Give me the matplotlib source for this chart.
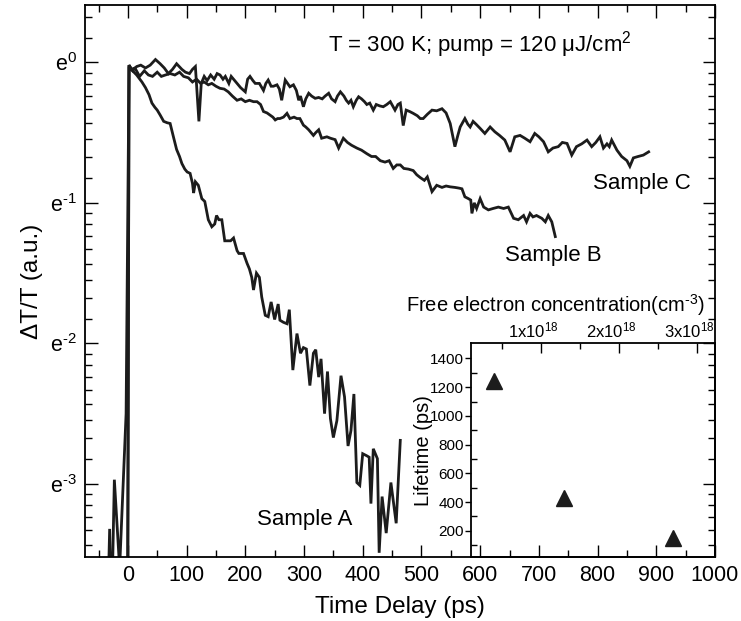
import numpy as np
import matplotlib
matplotlib.use("Agg")
import matplotlib.pyplot as plt
import matplotlib.transforms as mtransforms
from matplotlib.ticker import FixedLocator, NullFormatter

plt.rcParams['font.family'] = ['Liberation Sans', 'DejaVu Sans']
plt.rcParams['mathtext.fontset'] = 'custom'
plt.rcParams['mathtext.rm'] = 'Liberation Sans'
plt.rcParams['mathtext.it'] = 'Liberation Sans:italic'
plt.rcParams['mathtext.bf'] = 'Liberation Sans:bold'

# ---------------- data (delay in ps, signal as natural-log exponent) ----------------
tA = [-35, -31, -28, -23, -14, -3, 2, 8, 15, 24, 30, 36, 41, 46, 50, 55, 61, 67, 72, 77, 83, 88,
      92, 97, 101, 106, 110, 112, 115, 120, 126, 131, 137, 143, 148, 151, 155, 160, 165, 170, 175,
      180, 186, 189, 197, 203, 207, 211, 214, 219, 224, 228, 234, 239, 244, 250, 256, 259, 265,
      271, 275, 281, 288, 294, 299, 304, 310, 316, 320, 325, 329, 335, 340, 345, 350, 356, 363,
      369, 375, 380, 385, 390, 395, 400, 407, 411, 414, 418, 425, 428, 433, 440, 448, 457, 464]
lnA = [-4.0, -3.32, -4.0, -2.97, -3.6, -2.5, -0.02, -0.06, -0.09, -0.14, -0.18, -0.23, -0.29,
       -0.32, -0.34, -0.375, -0.42, -0.43, -0.435, -0.52, -0.62, -0.67, -0.72, -0.76, -0.78,
       -0.79, -0.86, -0.93, -0.85, -0.875, -0.97, -0.99, -1.12, -1.17, -1.15, -1.09, -1.12,
       -1.12, -1.27, -1.27, -1.27, -1.25, -1.34, -1.36, -1.36, -1.43, -1.47, -1.53, -1.62,
       -1.50, -1.53, -1.67, -1.80, -1.81, -1.705, -1.83, -1.72, -1.835, -1.85, -1.86, -1.76,
       -2.19, -1.93, -2.07, -2.03, -2.04, -2.30, -2.07, -2.045, -2.24, -2.11, -2.50, -2.20,
       -2.535, -2.67, -2.55, -2.23, -2.38, -2.73, -2.62, -2.36, -2.99, -3.01, -2.785, -2.80,
       -2.81, -3.14, -2.75, -2.82, -3.49, -3.09, -3.35, -2.99, -3.28, -2.69]

tB = [-40, -1, 2, 6, 12, 20, 28, 35, 42, 50, 57, 64, 72, 80, 88, 95, 103, 110, 117, 124, 130,
      137, 143, 150, 157, 164, 171, 178, 186, 193, 200, 207, 214, 220, 226, 231, 237, 242, 247,
      251, 255, 259, 265, 271, 276, 283, 288, 293, 299, 303, 308, 316, 320, 325, 330, 339, 345,
      353, 359, 367, 374, 381, 390, 398, 407, 415, 422, 430, 438, 445, 452, 458, 464, 470, 478,
      486, 492, 498, 505, 510, 518, 526, 535, 542, 549, 557, 564, 569, 574, 580, 584, 586, 590,
      594, 600, 606, 614, 622, 631, 640, 648, 657, 665, 674, 679, 685, 690, 696, 705, 711, 716,
      722, 728]
lnB = [-5.0, -5.0, -0.02, -0.05, -0.04, -0.10, -0.06, -0.09, -0.10, -0.07, -0.10, -0.09, -0.08,
       -0.09, -0.07, -0.10, -0.11, -0.14, -0.12, -0.15, -0.14, -0.16, -0.15, -0.17, -0.185,
       -0.19, -0.21, -0.24, -0.27, -0.26, -0.28, -0.27, -0.28, -0.28, -0.30, -0.35, -0.36,
       -0.375, -0.39, -0.41, -0.40, -0.40, -0.39, -0.363, -0.40, -0.39, -0.40, -0.40, -0.447,
       -0.46, -0.48, -0.52, -0.50, -0.48, -0.54, -0.53, -0.54, -0.55, -0.61, -0.54, -0.57,
       -0.59, -0.61, -0.625, -0.65, -0.67, -0.67, -0.70, -0.71, -0.70, -0.755, -0.73, -0.73,
       -0.755, -0.76, -0.77, -0.80, -0.82, -0.84, -0.815, -0.92, -0.875, -0.89, -0.88, -0.886,
       -0.89, -0.895, -0.90, -0.957, -0.97, -0.98, -1.075, -1.0, -1.04, -0.97, -1.03, -1.05,
       -1.04, -1.03, -1.04, -1.03, -1.11, -1.12, -1.09, -1.135, -1.075, -1.10, -1.09, -1.11,
       -1.135, -1.09, -1.135, -1.24]

tC = [-40, -1, 2, 8, 15, 22, 30, 38, 47, 55, 62, 69, 76, 83, 92, 98, 105, 110, 115, 121, 125,
      130, 135, 141, 147, 152, 157, 162, 166, 172, 176, 180, 186, 192, 200, 204, 208, 213, 217,
      224, 231, 235, 239, 244, 248, 254, 258, 262, 268, 272, 276, 282, 287, 291, 294, 299, 303,
      308, 313, 319, 325, 331, 336, 342, 347, 353, 357, 362, 368, 372, 376, 380, 384, 389, 393,
      398, 403, 407, 412, 418, 423, 429, 435, 441, 447, 451, 455, 460, 464, 469, 474, 480, 486,
      493, 498, 503, 510, 518, 526, 535, 542, 549, 557, 562, 566, 574, 579, 583, 588, 593, 600,
      608, 617, 625, 633, 642, 651, 659, 668, 676, 685, 693, 700, 708, 716, 724, 733, 740, 748,
      756, 764, 773, 782, 790, 797, 804, 810, 816, 820, 824, 833, 841, 850, 855, 861, 869, 878,
      887]
lnC = [-5.0, -5.0, -0.03, -0.06, -0.03, -0.02, -0.04, -0.02, 0.02, -0.01, -0.04, -0.08, -0.05,
       -0.01, -0.05, -0.07, -0.08, -0.05, -0.03, -0.42, -0.15, -0.10, -0.13, -0.09, -0.12,
       -0.08, -0.09, -0.12, -0.10, -0.15, -0.10, -0.12, -0.15, -0.18, -0.21, -0.12, -0.10,
       -0.13, -0.15, -0.15, -0.20, -0.15, -0.126, -0.17, -0.17, -0.16, -0.19, -0.27, -0.126,
       -0.15, -0.174, -0.16, -0.20, -0.27, -0.24, -0.316, -0.26, -0.22, -0.24, -0.256, -0.25,
       -0.26, -0.24, -0.22, -0.26, -0.28, -0.24, -0.21, -0.24, -0.27, -0.29, -0.27, -0.316,
       -0.27, -0.245, -0.26, -0.28, -0.30, -0.29, -0.34, -0.30, -0.31, -0.316, -0.30, -0.28,
       -0.31, -0.34, -0.30, -0.29, -0.45, -0.34, -0.35, -0.363, -0.38, -0.40, -0.40, -0.37,
       -0.34, -0.345, -0.33, -0.36, -0.435, -0.60, -0.52, -0.46, -0.40, -0.44, -0.46, -0.42,
       -0.44, -0.47, -0.506, -0.46, -0.494, -0.52, -0.553, -0.637, -0.53, -0.52, -0.54, -0.565,
       -0.506, -0.53, -0.565, -0.637, -0.61, -0.60, -0.57, -0.577, -0.66, -0.60, -0.58, -0.553,
       -0.60, -0.57, -0.53, -0.61, -0.58, -0.60, -0.553, -0.625, -0.67, -0.70, -0.74, -0.68,
       -0.67, -0.66, -0.637]

# inset: free electron concentration (cm^-3) vs lifetime (ps)
conc = [0.40e18, 1.29e18, 2.69e18]
lifetime = [1240, 430, 153]

sample_labels = ["Sample A", "Sample B", "Sample C"]
x_ticks = [0, 100, 200, 300, 400, 500, 600, 700, 800, 900, 1000]
y_exps = [-3, -2, -1, 0]
conc_ticks = [1e18, 2e18, 3e18]
conc_labels = [r"1x10$^{18}$", r"2x10$^{18}$", r"3x10$^{18}$"]
life_ticks = [200, 400, 600, 800, 1000, 1200, 1400]

# ---------------- figure ----------------
W, H = 741, 621
fig = plt.figure(figsize=(W / 100, H / 100), dpi=100)
L, R, T, B = 85, 715, 5, 557
ax = fig.add_axes([L / W, (H - B) / H, (R - L) / W, (B - T) / H])

lc = '#1c1c1c'
for t, ln in ((tA, lnA), (tB, lnB), (tC, lnC)):
    ax.plot(t, np.exp(ln), color=lc, lw=2.0, solid_joinstyle='miter')

ax.set_yscale('log', base=np.e)
ax.set_xlim(-73, 1000)
ax.set_ylim(np.exp(-3.52), np.exp(0.408))

ax.xaxis.set_major_locator(FixedLocator(x_ticks))
ax.xaxis.set_minor_locator(FixedLocator(np.arange(-50, 1000, 100)))
ax.yaxis.set_major_locator(FixedLocator(np.exp(y_exps)))
ax.set_yticklabels([r"e$^{%s}$" % (r"\text{-}%d" % -n if n < 0 else "%d" % n) for n in y_exps])
minors = []
for n in range(-4, 1):
    lo, hi = np.exp(n), np.exp(n + 1)
    for k in range(1, 9):
        minors.append(lo + k * (hi - lo) / 9)
ax.yaxis.set_minor_locator(FixedLocator(minors))
ax.yaxis.set_minor_formatter(NullFormatter())

ax.tick_params(which='both', direction='in', top=True, right=True, width=1.0, labelsize=15.5, pad=6)
ax.tick_params(which='major', length=9)
ax.tick_params(which='minor', length=5)
for s in ax.spines.values():
    s.set_linewidth(1.3)

ax.set_xlabel("Time Delay (ps)", fontsize=17.5, labelpad=7)
ax.set_ylabel("\u0394T/T (a.u.)", fontsize=17.5)
ax.yaxis.set_label_coords(-0.066, 0.5)

def fx(px):
    return (px - L) / (R - L)

def fy(py):
    return (B - py) / (B - T)

ax.text(fx(328), fy(52), "T = 300 K; pump = 120 \u03bcJ/cm$^{2}$", transform=ax.transAxes,
        fontsize=16, ha='left', va='baseline')
ax.text(fx(593), fy(183), sample_labels[2], transform=ax.transAxes, fontsize=16, ha='left', va='center')
ax.text(fx(505), fy(256), sample_labels[1], transform=ax.transAxes, fontsize=16, ha='left', va='center')
ax.text(fx(257), fy(519), sample_labels[0], transform=ax.transAxes, fontsize=16, ha='left', va='center')

# ---------------- inset ----------------
iL, iT = 470.7, 343.3
ins = fig.add_axes([iL / W, (H - B) / H, (R - iL) / W, (B - iT) / H])
ins.set_facecolor('none')
ins.plot(conc, lifetime, linestyle='none', marker='^', markersize=11, color=lc)
ins.set_xlim(0.1e18, 3.23e18)
ins.set_ylim(18, 1505)

ins.xaxis.tick_top()
ins.xaxis.set_major_locator(FixedLocator(conc_ticks))
ins.set_xticklabels(conc_labels)
ins.xaxis.set_minor_locator(FixedLocator([0.5e18, 1.5e18, 2.5e18]))
ins.tick_params(axis='x', which='both', direction='in', top=True, bottom=False, labelsize=12, pad=2)
ins.tick_params(axis='x', which='major', length=7, width=1.0)
ins.tick_params(axis='x', which='minor', length=4, width=1.0)
shift = mtransforms.ScaledTranslation(-8 / 100, 0, fig.dpi_scale_trans)
for lab in ins.get_xticklabels():
    lab.set_transform(lab.get_transform() + shift)

ins.yaxis.set_major_locator(FixedLocator(life_ticks))
ins.yaxis.set_minor_locator(FixedLocator(np.arange(100, 1500, 200)))
ins.tick_params(axis='y', which='major', direction='out', length=4, width=1.0, labelsize=11, pad=1)
ins.tick_params(axis='y', which='minor', direction='in', length=4, width=1.0)
for s in ins.spines.values():
    s.set_linewidth(1.3)

ins.text((556 - iL) / (R - iL), (B - 305) / (B - iT),
         r"Free electron concentration(cm$^{\text{-}3}$)", transform=ins.transAxes,
         fontsize=14.5, ha='center', va='center')
ins.set_ylabel("Lifetime (ps)", fontsize=14.5)
ins.yaxis.set_label_coords(-0.155, 0.5)

fig.savefig("out.png", dpi=100)
